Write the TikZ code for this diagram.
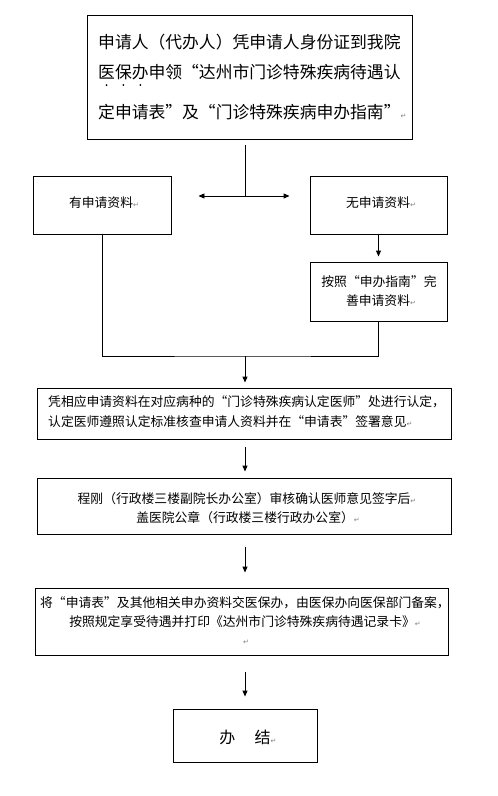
\documentclass[tikz,border=0pt]{standalone}
\usepackage{fontspec}
\newfontfamily\cjk{Noto Sans CJK SC}
\newfontfamily\symfont{DejaVu Sans}
\usetikzlibrary{arrows.meta}
\newcommand\rmk{{\symfont\fontsize{7}{7}\selectfont\textcolor{gray}{↵}}}
\tikzset{
  box/.style={draw, line width=0.9pt, inner sep=0pt},
  txt/.style={font=\cjk\fontsize{12.8}{15}\selectfont, inner sep=0pt},
  bigtxt/.style={font=\cjk\fontsize{16.8}{20}\selectfont, inner sep=0pt},
  endtxt/.style={font=\cjk\fontsize{16}{20}\selectfont, inner sep=0pt},
  ln/.style={line width=0.9pt},
  arr/.style={line width=0.9pt, -{Triangle[length=6pt,width=5pt]}},
  dblarr/.style={line width=0.9pt, {Triangle[length=6pt,width=5pt]}-{Triangle[length=6pt,width=5pt]}},
}
\begin{document}
\begin{tikzpicture}[x=1pt,y=-1pt]
\useasboundingbox (0,0) rectangle (498,796);
% boxes
\node[box, minimum width=325pt, minimum height=124pt] (top) at (249.5,77) {};
\node[box, minimum width=138pt, minimum height=58pt] (bL) at (102,205) {};
\node[box, minimum width=137pt, minimum height=58pt] (bR) at (378.5,205) {};
\node[box, minimum width=137pt, minimum height=59pt] (bA) at (378.5,291.5) {};
\node[box, minimum width=414pt, minimum height=51pt] (b3) at (244,413.5) {};
\node[box, minimum width=414pt, minimum height=56pt] (b4) at (244,506) {};
\node[box, minimum width=413pt, minimum height=67pt] (b5) at (241.5,621.5) {};
\node[box, minimum width=144pt, minimum height=53pt] (b6) at (245,735.5) {};
\coordinate (split) at (245,196);
\coordinate (join) at (245,356);
% texts
\node[bigtxt, anchor=west] (t1) at (98,42) {申请人（代办人）凭申请人身份证到我院};
\node[bigtxt, anchor=west] (t2) at (98,72) {医保办申领“达州市门诊特殊疾病待遇认};
\node[bigtxt, anchor=west] (t3) at (98,112) {定申请表”及“门诊特殊疾病申办指南”\rmk};
\fill (106.5,85) circle (1pt) (123.4,85) circle (1pt) (140.3,85) circle (1pt);
\node[txt] (tL) at (104,203) {有申请资料\rmk};
\node[txt] (tR) at (381,203) {无申请资料\rmk};
\node[txt] (tA1) at (379,282) {按照“申办指南”完};
\node[txt] (tA2) at (381,301) {善申请资料\rmk};
\node[txt, anchor=west] (t31) at (48,402) {凭相应申请资料在对应病种的“门诊特殊疾病认定医师”处进行认定，};
\node[txt, anchor=west] (t32) at (48,422) {认定医师遵照认定标准核查申请人资料并在“申请表”签署意见\rmk};
\node[txt] (t41) at (247,499) {程刚（行政楼三楼副院长办公室）审核确认医师意见签字后\rmk};
\node[txt] (t42) at (248,518) {盖医院公章（行政楼三楼行政办公室）\rmk};
\node[txt] (t51) at (245,603) {将“申请表”及其他相关申办资料交医保办，由医保办向医保部门备案，};
\node[txt] (t52) at (245,622) {按照规定享受待遇并打印《达州市门诊特殊疾病待遇记录卡》\rmk};
\node[txt] (t53) at (246,642) {\rmk};
\node[endtxt] (t6) at (248,737) {办\hspace{1.2em}结\rmk};
% connectors
\draw[ln, shorten <=6pt] (top.south -| split) -- (split);
\draw[dblarr, shorten <=27pt, shorten >=20pt] (bL.east |- split) -- (bR.west |- split);
\draw[arr, shorten >=5pt] (bR.south) -- (bA.north);
\draw[ln] (bL.south) |- (join) -| (bA.south);
\draw[arr, shorten >=5pt] (join) -- (b3.north -| join);
\draw[arr, shorten <=8pt, shorten >=6pt] (b3.south -| join) -- (b4.north -| join);
\draw[arr, shorten <=13pt, shorten >=15pt] (b4.south -| join) -- (b5.north -| join);
\draw[arr, shorten <=17pt, shorten >=12pt] (b5.south -| join) -- (b6.north -| join);
\end{tikzpicture}
\end{document}
